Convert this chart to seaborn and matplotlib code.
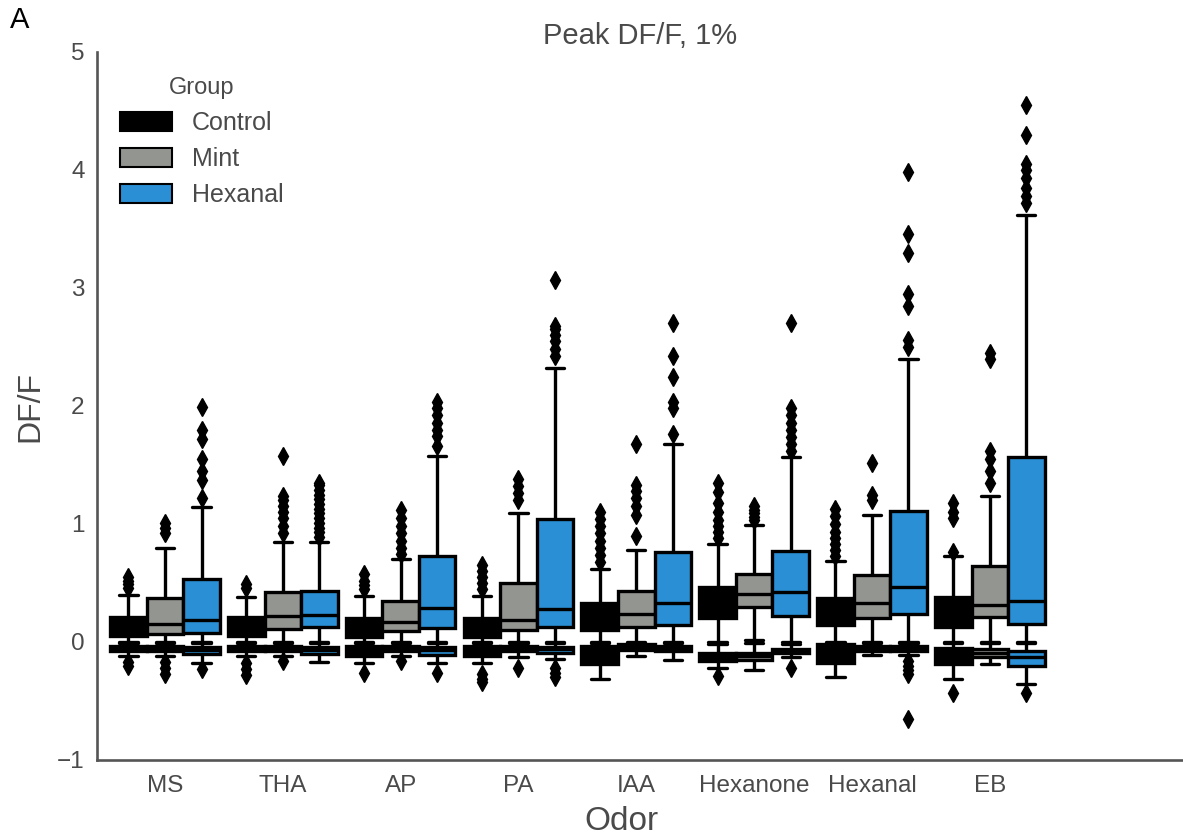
import numpy as np
import pandas as pd
import matplotlib
matplotlib.use("Agg")
import matplotlib.pyplot as plt
import seaborn as sns
from matplotlib.patches import Patch

# ---------------- data ----------------
ODORS = ["MS", "THA", "AP", "PA", "IAA", "Hexanone", "Hexanal", "EB"]
GROUPS = ["Control", "Mint", "Hexanal"]
COLORS = ["#000000", "#939591", "#2a8fd4"]

# Positive (excitatory) responses: whisker-low, Q1, median, Q3, whisker-high
POS_WLO = {
    "Control": [0.00, 0.00, 0.00, 0.00, 0.00, 0.00, 0.00, 0.00],
    "Mint":    [0.00, 0.00, 0.00, 0.00, 0.00, 0.02, 0.00, 0.00],
    "Hexanal": [0.00, 0.00, 0.00, 0.00, 0.00, 0.00, 0.00, 0.00],
}
POS_Q1 = {
    "Control": [0.05, 0.05, 0.04, 0.04, 0.10, 0.20, 0.14, 0.13],
    "Mint":    [0.07, 0.11, 0.09, 0.10, 0.13, 0.30, 0.20, 0.21],
    "Hexanal": [0.08, 0.13, 0.12, 0.13, 0.14, 0.22, 0.24, 0.15],
}
POS_MED = {
    "Control": [0.12, 0.12, 0.11, 0.11, 0.21, 0.35, 0.26, 0.26],
    "Mint":    [0.15, 0.22, 0.17, 0.19, 0.24, 0.41, 0.33, 0.31],
    "Hexanal": [0.19, 0.23, 0.29, 0.28, 0.33, 0.42, 0.47, 0.35],
}
POS_Q3 = {
    "Control": [0.21, 0.21, 0.20, 0.20, 0.33, 0.47, 0.37, 0.38],
    "Mint":    [0.37, 0.42, 0.35, 0.50, 0.43, 0.58, 0.57, 0.64],
    "Hexanal": [0.53, 0.43, 0.73, 1.04, 0.76, 0.77, 1.11, 1.57],
}
POS_WHI = {
    "Control": [0.40, 0.38, 0.39, 0.39, 0.62, 0.83, 0.69, 0.73],
    "Mint":    [0.80, 0.85, 0.70, 1.09, 0.78, 0.99, 1.08, 1.24],
    "Hexanal": [1.14, 0.85, 1.58, 2.32, 1.68, 1.57, 2.40, 3.62],
}
POS_OUT = {
    "Control": [
        [0.46, 0.49, 0.52, 0.55],
        [0.46, 0.49],
        [0.45, 0.48, 0.52, 0.58],
        [0.45, 0.50, 0.55, 0.60, 0.65],
        [0.68, 0.74, 0.80, 0.86, 0.92, 0.98, 1.04, 1.10],
        [0.88, 0.93, 0.98, 1.03, 1.10, 1.18, 1.27, 1.35],
        [0.73, 0.78, 0.83, 0.88, 0.93, 1.00, 1.07, 1.13],
        [0.76, 1.05, 1.10, 1.18],
    ],
    "Mint": [
        [0.92, 0.97, 1.01],
        [0.92, 0.98, 1.05, 1.10, 1.15, 1.20, 1.24, 1.58],
        [0.75, 0.80, 0.86, 0.92, 0.98, 1.05, 1.12],
        [1.20, 1.26, 1.32, 1.38],
        [0.90, 1.08, 1.15, 1.22, 1.28, 1.33, 1.68],
        [1.03, 1.06, 1.09, 1.12, 1.15],
        [1.20, 1.25, 1.52],
        [1.35, 1.45, 1.55, 1.62, 2.40, 2.45],
    ],
    "Hexanal": [
        [1.22, 1.37, 1.45, 1.55, 1.72, 1.80, 1.99],
        [0.89, 0.93, 0.97, 1.01, 1.05, 1.09, 1.13, 1.17, 1.21, 1.25, 1.29, 1.33, 1.35],
        [1.66, 1.75, 1.80, 1.86, 1.92, 1.98, 2.03],
        [2.42, 2.48, 2.55, 2.60, 2.65, 2.68, 3.07],
        [1.76, 1.98, 2.03, 2.25, 2.42, 2.70],
        [1.62, 1.68, 1.74, 1.80, 1.86, 1.92, 1.98, 2.70],
        [2.50, 2.56, 2.85, 2.95, 3.30, 3.46, 3.98],
        [3.72, 3.78, 3.85, 3.93, 4.00, 4.05, 4.30, 4.55],
    ],
}

# Negative (inhibitory) responses
NEG_WLO = {
    "Control": [-0.12, -0.12, -0.18, -0.18, -0.31, -0.22, -0.30, -0.31],
    "Mint":    [-0.12, -0.12, -0.12, -0.13, -0.12, -0.235, -0.11, -0.19],
    "Hexanal": [-0.18, -0.17, -0.18, -0.14, -0.15, -0.13, -0.11, -0.36],
}
NEG_Q1 = {
    "Control": [-0.08, -0.08, -0.12, -0.12, -0.19, -0.16, -0.18, -0.19],
    "Mint":    [-0.08, -0.08, -0.08, -0.08, -0.07, -0.15, -0.08, -0.13],
    "Hexanal": [-0.10, -0.10, -0.11, -0.09, -0.08, -0.09, -0.08, -0.20],
}
NEG_MED = {
    "Control": [-0.05, -0.05, -0.07, -0.07, -0.10, -0.12, -0.09, -0.11],
    "Mint":    [-0.06, -0.05, -0.05, -0.05, -0.04, -0.12, -0.05, -0.09],
    "Hexanal": [-0.07, -0.07, -0.07, -0.06, -0.05, -0.08, -0.05, -0.13],
}
NEG_Q3 = {
    "Control": [-0.03, -0.03, -0.03, -0.03, -0.03, -0.09, -0.02, -0.05],
    "Mint":    [-0.03, -0.03, -0.03, -0.03, -0.02, -0.09, -0.03, -0.06],
    "Hexanal": [-0.04, -0.04, -0.04, -0.04, -0.03, -0.06, -0.03, -0.08],
}
NEG_WHI = {
    "Control": [-0.005, -0.005, -0.005, -0.005, -0.005, -0.02, -0.005, -0.005],
    "Mint":    [-0.005, -0.005, -0.005, -0.005, -0.005, -0.005, -0.005, -0.005],
    "Hexanal": [-0.005, -0.005, -0.005, -0.005, -0.005, -0.02, -0.005, -0.005],
}
NEG_OUT = {
    "Control": [
        [-0.17, -0.20], [-0.18, -0.23, -0.28], [-0.26], [-0.27, -0.31, -0.34],
        [], [-0.29], [], [-0.43],
    ],
    "Mint": [
        [-0.17, -0.22, -0.27], [-0.16], [-0.16], [-0.22],
        [], [], [], [],
    ],
    "Hexanal": [
        [-0.23], [], [-0.26], [-0.22, -0.26, -0.30],
        [], [-0.22], [-0.16, -0.20, -0.24, -0.27, -0.65], [-0.43],
    ],
}

REPEAT = 60  # copies of each quartile value so that the box statistics are exact


def build_frame(wlo, q1, med, q3, whi, outs):
    rows = []
    for g in GROUPS:
        for i, odor in enumerate(ODORS):
            vals = ([wlo[g][i]] + [q1[g][i]] * REPEAT + [med[g][i]] * REPEAT
                    + [q3[g][i]] * REPEAT + [whi[g][i]] + list(outs[g][i]))
            for v in vals:
                rows.append((odor, g, v))
    return pd.DataFrame(rows, columns=["Odor", "Group", "DF/F"])


pos_df = build_frame(POS_WLO, POS_Q1, POS_MED, POS_Q3, POS_WHI, POS_OUT)
neg_df = build_frame(NEG_WLO, NEG_Q1, NEG_MED, NEG_Q3, NEG_WHI, NEG_OUT)

# ---------------- style ----------------
sns.set_style("white")
plt.rcParams["font.family"] = ["Liberation Sans", "DejaVu Sans"]
TEXT = "#4a4a4a"
plt.rcParams["text.color"] = TEXT
plt.rcParams["axes.labelcolor"] = TEXT
plt.rcParams["xtick.color"] = TEXT
plt.rcParams["ytick.color"] = TEXT

fig = plt.figure(figsize=(11.83, 8.39), dpi=100)
ax = fig.add_axes([97 / 1183, 79 / 839, 1 - 97 / 1183, (760 - 52) / 839])

common = dict(
    x="Odor", y="DF/F", hue="Group", order=ODORS, hue_order=GROUPS,
    palette=COLORS, saturation=1, width=0.93, linecolor="black",
    linewidth=2.4, fliersize=9,
    flierprops=dict(marker="d", markerfacecolor="black",
                    markeredgecolor="black"),
    ax=ax,
)
sns.boxplot(data=pos_df, legend=False, **common)
sns.boxplot(data=neg_df, legend=False, **common)

ax.set_xlim(-0.577, 8.64)
ax.set_ylim(-1, 5)
ax.set_yticks([-1, 0, 1, 2, 3, 4, 5])
ax.tick_params(axis="both", labelsize=17.5, length=0)
ax.tick_params(axis="x", pad=11)
ax.tick_params(axis="y", pad=9)
ax.set_xlabel("Odor", fontsize=24, labelpad=5)
ax.xaxis.set_label_coords((621 - 97) / 1086, -0.065)
ax.set_ylabel("DF/F", fontsize=23, labelpad=8)
ax.set_title("Peak DF/F, 1%", fontsize=21, color=TEXT, pad=6)

sns.despine(ax=ax)
for side in ("left", "bottom"):
    ax.spines[side].set_color("#555555")
    ax.spines[side].set_linewidth(1.9)

handles = [Patch(facecolor=c, edgecolor="black", linewidth=1.5) for c in COLORS]
leg = ax.legend(handles, GROUPS, title="Group", loc="upper left",
                bbox_to_anchor=(0.0, 0.996), frameon=False, fontsize=18,
                title_fontsize=17, handlelength=2.1, handleheight=0.75,
                labelspacing=0.48, handletextpad=0.8)
for t in leg.get_texts():
    t.set_color(TEXT)
leg.get_title().set_color(TEXT)

fig.text(10 / 1183, 1 - 20 / 839, "A", fontsize=21, color="black",
         va="center", ha="left")

fig.savefig("out.png", dpi=100)
